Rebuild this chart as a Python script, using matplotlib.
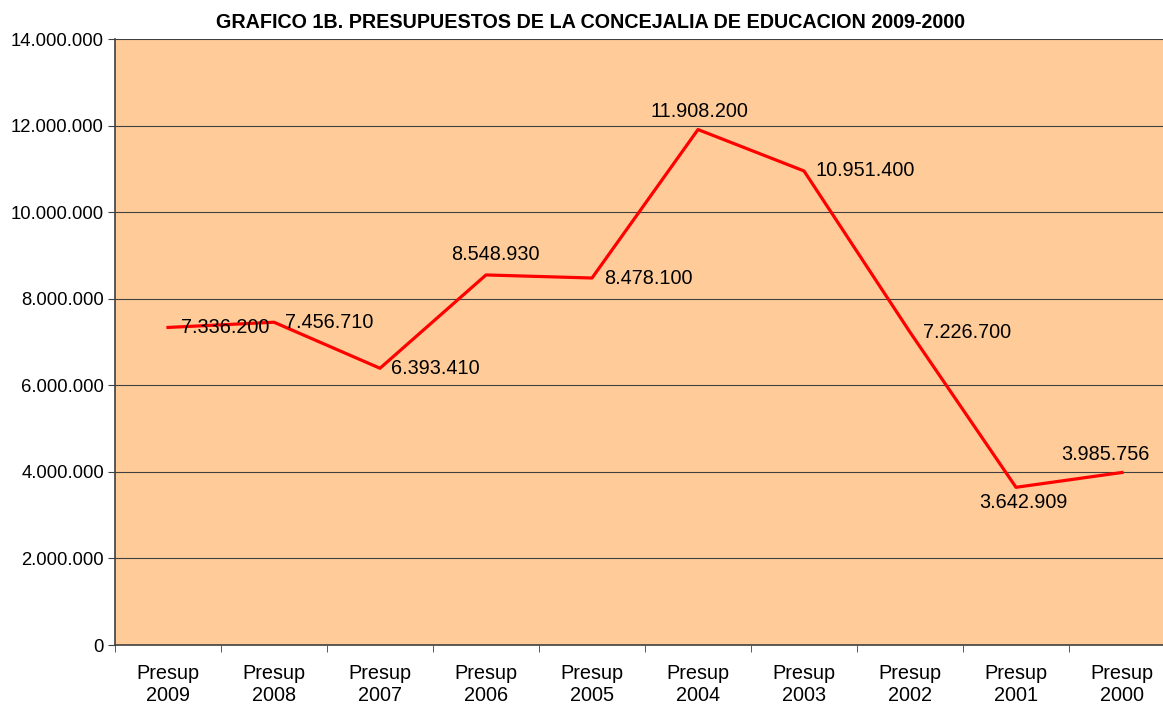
import numpy as np
import matplotlib.pyplot as plt
from matplotlib.ticker import FuncFormatter

plt.rcParams['font.family'] = ['Liberation Sans', 'DejaVu Sans']

labels = ["Presup\n2009", "Presup\n2008", "Presup\n2007", "Presup\n2006", "Presup\n2005",
          "Presup\n2004", "Presup\n2003", "Presup\n2002", "Presup\n2001", "Presup\n2000"]
values = [7336200, 7456710, 6393410, 8548930, 8478100,
          11908200, 10951400, 7226700, 3642909, 3985756]
value_text = ["7.336.200", "7.456.710", "6.393.410", "8.548.930", "8.478.100",
              "11.908.200", "10.951.400", "7.226.700", "3.642.909", "3.985.756"]
# label placement (offset in points, horizontal alignment)
label_pos = [((9, 0), 'left'), ((8, 0), 'left'), ((8, 0), 'left'),
             ((7, 15), 'center'), ((8.5, 0), 'left'), ((1, 13), 'center'),
             ((8, 0), 'left'), ((9, 0), 'left'), ((5, -11), 'center'),
             ((-12, 13), 'center')]

fig = plt.figure(figsize=(11.63, 7.06), dpi=100)
ax = fig.add_axes([115 / 1163, 61 / 706, 1060 / 1163, 606 / 706])
ax.set_facecolor('#FFCC99')

x = np.arange(len(values))
ax.plot(x, values, color='#FF0000', lw=2.3, zorder=3)
for xi, v, t, (off, ha) in zip(x, values, value_text, label_pos):
    ax.annotate(t, (xi, v), xytext=off, textcoords='offset points',
                ha=ha, va='center', fontsize=14.3, color='black', zorder=4)

ax.set_xlim(-0.5, len(values) - 0.5)
ax.set_ylim(0, 14000000)
ax.set_yticks(np.arange(0, 14000001, 2000000))
ax.yaxis.set_major_formatter(FuncFormatter(lambda v, p: f"{int(v):,}".replace(",", ".")))
ax.set_xticks(x)
ax.set_xticklabels(labels, fontsize=14.3, linespacing=1.2)
ax.set_xticks(np.arange(-0.5, len(values), 1), minor=True)
ax.tick_params(axis='x', which='major', length=0, pad=14)
ax.tick_params(axis='x', which='minor', length=5, color='#404040')
ax.tick_params(axis='y', labelsize=13.3, length=5, color='#404040', pad=3)
ax.grid(axis='y', color='#404040', lw=0.8)
ax.set_axisbelow(True)
for s in ['top', 'right']:
    ax.spines[s].set_visible(False)
for s in ['left', 'bottom']:
    ax.spines[s].set_color('#404040')
    ax.spines[s].set_linewidth(1.2)

fig.text(591 / 1163, 1 - 22 / 706, "GRAFICO 1B. PRESUPUESTOS DE LA CONCEJALIA DE EDUCACION 2009-2000",
         ha='center', va='center', fontsize=14.2, fontweight='bold')

fig.savefig('out.png', dpi=100)
